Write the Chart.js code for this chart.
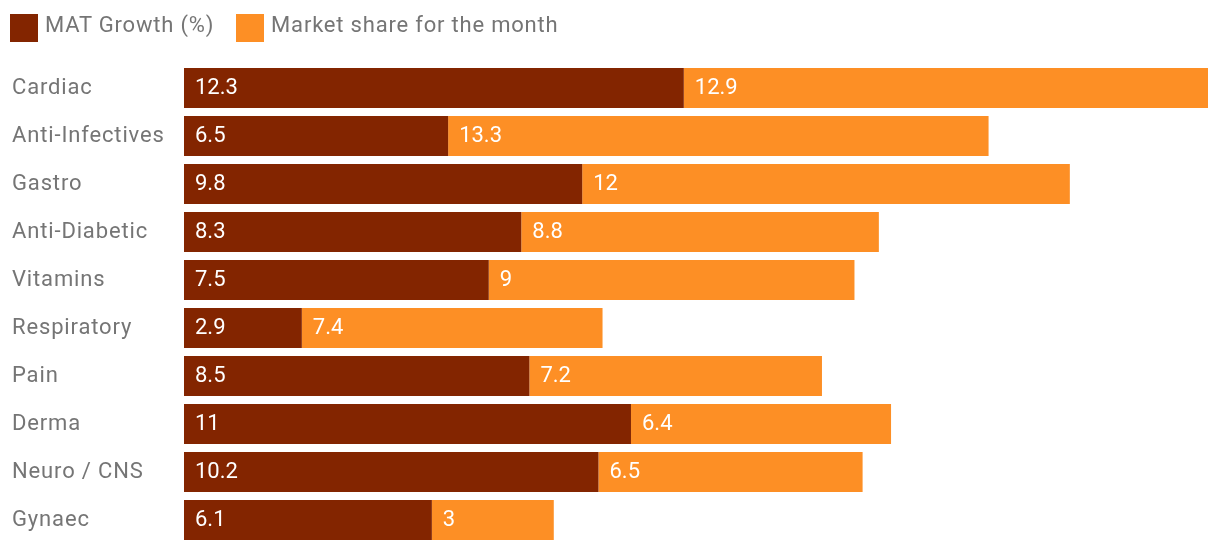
<!DOCTYPE html>
<html>
<head>
<meta charset="utf-8">
<script src="https://cdn.jsdelivr.net/npm/chart.js@4"></script>
<style>
  html, body { margin: 0; padding: 0; background: #ffffff; }
  #wrap { position: relative; width: 1220px; height: 552px; }
  #c { display: block; }
  .lbox { position: absolute; width: 28px; height: 28px; top: 14px; }
  .ltext { position: absolute; top: 14px; font-family: Roboto, sans-serif; font-size: 22px;
           line-height: 22px; letter-spacing: 0.8px; color: #757575; white-space: nowrap; }
</style>
</head>
<body>
<div id="wrap">
  <canvas id="c" width="1220" height="552"></canvas>
</div>
<script>
const categories = ["Cardiac", "Anti-Infectives", "Gastro", "Anti-Diabetic", "Vitamins", "Respiratory", "Pain", "Derma", "Neuro / CNS", "Gynaec"];
const matGrowth = [12.3, 6.5, 9.8, 8.3, 7.5, 2.9, 8.5, 11, 10.2, 6.1];
const marketShare = [12.9, 13.3, 12, 8.8, 9, 7.4, 7.2, 6.4, 6.5, 3];
const seriesNames = ["MAT Growth (%)", "Market share for the month"];
const seriesColors = ["#832500", "#FD8F25"];

// HTML legend
const wrap = document.getElementById('wrap');
let lx = 10;
seriesNames.forEach((n, i) => {
  const b = document.createElement('div'); b.className = 'lbox';
  b.style.background = seriesColors[i]; b.style.left = lx + 'px';
  wrap.appendChild(b);
  const t = document.createElement('span'); t.className = 'ltext';
  t.textContent = n; t.style.left = (lx + 35) + 'px';
  wrap.appendChild(t);
  lx = lx + 35 + t.getBoundingClientRect().width + 22;
});

const barLabels = {
  id: 'barLabels',
  afterDatasetsDraw(chart) {
    const ctx = chart.ctx;
    ctx.save();
    ctx.letterSpacing = '0px';
    ctx.font = '22px Roboto, sans-serif';
    ctx.fillStyle = '#ffffff';
    ctx.textAlign = 'left';
    ctx.textBaseline = 'middle';
    chart.data.datasets.forEach((ds, di) => {
      const meta = chart.getDatasetMeta(di);
      meta.data.forEach((el, i) => {
        const left = Math.min(el.x, el.base);
        ctx.fillText(String(ds.data[i]), left + 11, el.y + 0.5);
      });
    });
    ctx.restore();
  }
};

const spacing = {
  id: 'spacing',
  beforeDraw(chart) { chart.ctx.letterSpacing = '0.85px'; }
};

new Chart(document.getElementById('c'), {
  type: 'bar',
  data: {
    labels: categories,
    datasets: [
      { label: seriesNames[0], data: matGrowth, backgroundColor: seriesColors[0], borderWidth: 0 },
      { label: seriesNames[1], data: marketShare, backgroundColor: seriesColors[1], borderWidth: 0 }
    ]
  },
  options: {
    indexAxis: 'y',
    responsive: false,
    animation: false,
    layout: { padding: { left: 12, right: 12, top: 64, bottom: 8 } },
    datasets: { bar: { barPercentage: 1, categoryPercentage: 40 / 48 } },
    plugins: { legend: { display: false }, tooltip: { enabled: false } },
    scales: {
      x: { stacked: true, display: false, min: 0, max: 25.2 },
      y: {
        stacked: true,
        grid: { display: false, drawTicks: false },
        border: { display: false },
        ticks: { crossAlign: 'far', color: '#757575', font: { family: 'Roboto', size: 22 }, padding: 0 },
        afterFit(scale) {
          scale.width = 172;
          scale.paddingTop = 0;
          scale.paddingBottom = 0;
        }
      }
    }
  },
  plugins: [spacing, barLabels]
});
</script>
</body>
</html>
